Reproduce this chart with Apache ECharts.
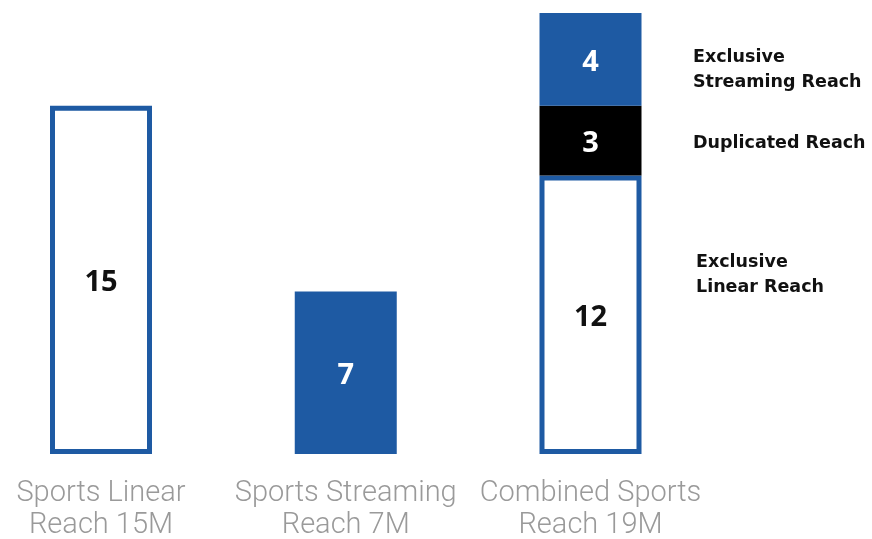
<!DOCTYPE html>
<html><head><meta charset="utf-8">
<script src="https://cdn.jsdelivr.net/npm/echarts@6/dist/echarts.min.js"></script>
<style>html,body{margin:0;padding:0;background:#fff}#c{width:872px;height:539px}</style>
</head><body><div id="c"></div>
<script>
const categories = ['Sports Linear\nReach 15M', 'Sports Streaming\nReach 7M', 'Combined Sports\nReach 19M'];
const linearValues = [15, null, 12];
const streamingOnlyValues = [null, 7, null];
const duplicatedValues = [null, null, 3];
const exclusiveStreamingValues = [null, null, 4];
const annotations = ['Exclusive\nStreaming Reach', 'Duplicated Reach', 'Exclusive\nLinear Reach'];

const BLUE = '#1e5aa3';
const BW = 102;
const chart = echarts.init(document.getElementById('c'));
const valLabel = (color) => ({
  show: true, position: 'inside', color: color, offset: [0, 3],
  fontFamily: 'Open Sans', fontWeight: 700, fontSize: 29
});
chart.setOption({
  animation: false,
  grid: { left: 101, right: 281.5, top: 13, bottom: 85, outerBoundsMode: 'none', containLabel: false },
  xAxis: {
    type: 'category', data: categories, boundaryGap: false,
    axisLine: { show: false }, axisTick: { show: false }, splitLine: { show: false },
    axisLabel: { interval: 0, color: '#9a9a9a', fontFamily: 'Roboto', fontWeight: 300, fontSize: 29, lineHeight: 32, margin: 24 }
  },
  yAxis: { type: 'value', min: 0, max: 19, show: false, splitLine: { show: false } },
  series: [
    { type: 'bar', stack: 's', data: linearValues, barWidth: BW,
      itemStyle: { color: '#fff', borderColor: BLUE, borderWidth: 5 },
      label: valLabel('#111') },
    { type: 'bar', stack: 's', data: streamingOnlyValues, barWidth: BW,
      itemStyle: { color: BLUE, borderColor: BLUE, borderWidth: 2 },
      label: valLabel('#fff') },
    { type: 'bar', stack: 's', data: duplicatedValues, barWidth: BW,
      itemStyle: { color: '#000', borderColor: '#000', borderWidth: 5 },
      label: valLabel('#fff') },
    { type: 'bar', stack: 's', data: exclusiveStreamingValues, barWidth: BW,
      itemStyle: { color: BLUE, borderColor: BLUE, borderWidth: 2 },
      label: valLabel('#fff') }
  ],
  graphic: [
    { type: 'text', left: 693, top: 45, style: { text: annotations[0], fill: '#111', font: 'bold 17.5px "DejaVu Sans"', lineHeight: 25 } },
    { type: 'text', left: 693, top: 131, style: { text: annotations[1], fill: '#111', font: 'bold 17.5px "DejaVu Sans"', lineHeight: 25 } },
    { type: 'text', left: 696, top: 250, style: { text: annotations[2], fill: '#111', font: 'bold 17.5px "DejaVu Sans"', lineHeight: 25 } }
  ]
});
</script></body></html>
